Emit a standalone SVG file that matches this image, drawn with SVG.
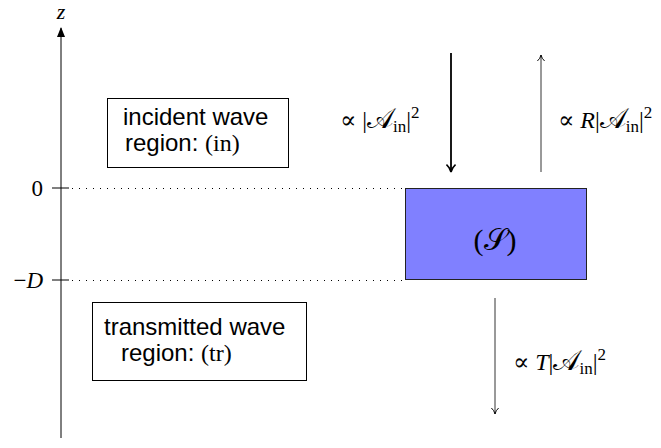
<svg xmlns="http://www.w3.org/2000/svg" width="661" height="448" viewBox="0 0 661 448">
<defs>
<marker id="ah" viewBox="0 0 10 10" refX="9" refY="5" markerWidth="10" markerHeight="10" markerUnits="userSpaceOnUse" orient="auto"><path d="M0,1 L10,5 L0,9 z" fill="#000"/></marker>
<marker id="to" viewBox="0 0 10 10" refX="9.5" refY="5" markerWidth="8" markerHeight="8" markerUnits="userSpaceOnUse" orient="auto"><path d="M2,0.5 Q5,4 9.5,5 Q5,6 2,9.5" fill="none" stroke="#000" stroke-width="1.2"/></marker>
<marker id="tob" viewBox="0 0 10 10" refX="9.5" refY="5" markerWidth="10" markerHeight="10" markerUnits="userSpaceOnUse" orient="auto"><path d="M2,0.5 Q5,4 9.5,5 Q5,6 2,9.5" fill="none" stroke="#000" stroke-width="1.6"/></marker>
</defs>
<style>
.m{font-family:"Liberation Serif","DejaVu Serif",serif;fill:#000}
.s{font-family:"Liberation Sans",Arial,sans-serif;fill:#000}
.box{fill:#fff;stroke:#000;stroke-width:1}
.dot{stroke:#000;stroke-width:1;stroke-dasharray:1 6}
.sc{font-family:"DejaVu Sans",serif}
</style>
<g id="axis">
<line x1="61" y1="438" x2="61" y2="28" stroke="#000" stroke-width="1" marker-end="url(#ah)"/>
<text class="m" x="61" y="19" text-anchor="middle" font-style="italic" font-size="22">z</text>
<line x1="52" y1="188" x2="69" y2="188" stroke="#000"/>
<line x1="52" y1="280" x2="69" y2="280" stroke="#000"/>
<line class="dot" x1="72" y1="188.5" x2="405" y2="188.5"/>
<line class="dot" x1="72" y1="280.5" x2="405" y2="280.5"/>
<text class="m" x="43" y="196" text-anchor="end" font-size="23">0</text>
<text class="m" x="43" y="288" text-anchor="end" font-size="23">−<tspan font-style="italic">D</tspan></text>
</g>
<g id="incident">
<rect class="box" x="107.5" y="98.5" width="181" height="69"/>
<text class="s" x="123" y="125" font-size="24">incident wave</text>
<text class="s" x="125" y="151" font-size="24">region: <tspan class="m">(in)</tspan></text>
</g>
<g id="transmitted">
<rect class="box" x="92.5" y="302.5" width="214" height="78"/>
<text class="s" x="104" y="335" font-size="24">transmitted wave</text>
<text class="s" x="121" y="361" font-size="24">region: <tspan class="m">(tr)</tspan></text>
</g>
<g id="S">
<rect x="405.5" y="188.5" width="181" height="91" fill="#8080ff" stroke="#222" stroke-width="1"/>
<text class="m" x="495" y="250" text-anchor="middle" font-size="30">(<tspan class="sc">𝒮</tspan>)</text>
</g>
<g id="connectors">
<line x1="451" y1="53" x2="451" y2="172" stroke="#000" stroke-width="1.8" marker-end="url(#tob)"/>
<line x1="541" y1="172" x2="541" y2="55" stroke="#000" stroke-width="0.8" marker-end="url(#to)"/>
<line x1="495" y1="298" x2="495" y2="414" stroke="#000" stroke-width="0.8" marker-end="url(#to)"/>
</g>
<g id="labels">
<text class="m" x="340" y="128" font-size="24">∝ |<tspan class="sc" font-size="28">𝒜</tspan><tspan font-size="17" dy="4">in</tspan><tspan dy="-4">|</tspan><tspan font-size="17" dy="-10">2</tspan></text>
<text class="m" x="558" y="128" font-size="24">∝ <tspan font-style="italic">R</tspan>|<tspan class="sc" font-size="28">𝒜</tspan><tspan font-size="17" dy="4">in</tspan><tspan dy="-4">|</tspan><tspan font-size="17" dy="-10">2</tspan></text>
<text class="m" x="513" y="370" font-size="24">∝ <tspan font-style="italic">T</tspan>|<tspan class="sc" font-size="28">𝒜</tspan><tspan font-size="17" dy="4">in</tspan><tspan dy="-4">|</tspan><tspan font-size="17" dy="-10">2</tspan></text>
</g>
</svg>
